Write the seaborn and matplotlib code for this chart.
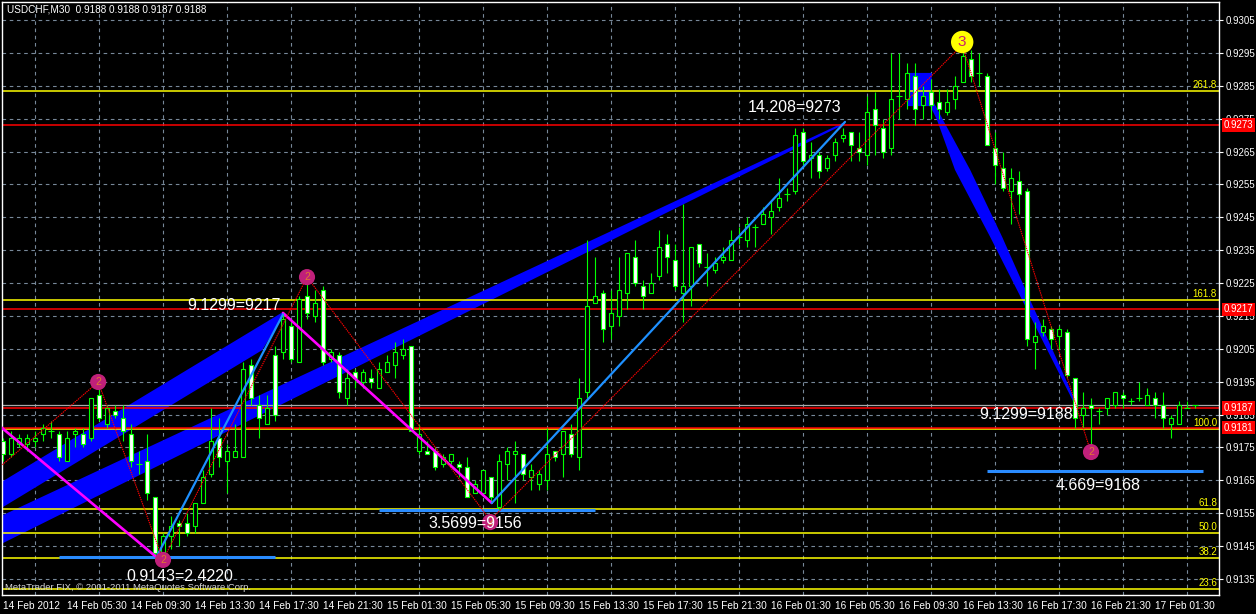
import matplotlib
matplotlib.use("Agg")
import matplotlib.pyplot as plt
import numpy as np
import pandas as pd
import seaborn as sns

# ---------------- data (USDCHF M30) ----------------
opens = [0.9177, 0.9173, 0.9176, 0.9176, 0.9177, 0.9179, 0.9180, 0.9179, 0.9171, 0.9179,
         0.9179, 0.9178, 0.9191, 0.9182, 0.9186, 0.9184, 0.9179, 0.9170, 0.9171, 0.9160,
         0.9142, 0.9148, 0.9152, 0.9152, 0.9151, 0.9158, 0.9167, 0.9178, 0.9171, 0.9172,
         0.9172, 0.9200, 0.9188, 0.9182, 0.9203, 0.9204, 0.9212, 0.9201, 0.9221, 0.9215,
         0.9223, 0.9202, 0.9203, 0.9190, 0.9198, 0.9195, 0.9196, 0.9193, 0.9198, 0.9200,
         0.9203, 0.9206, 0.9174, 0.9174, 0.9174, 0.9170, 0.9171, 0.9170, 0.9169, 0.9161,
         0.9161, 0.9166, 0.9157, 0.9170, 0.9173, 0.9173, 0.9166, 0.9164, 0.9165, 0.9174,
         0.9173, 0.9179, 0.9172, 0.9192, 0.9219, 0.9222, 0.9212, 0.9215, 0.9222, 0.9233,
         0.9224, 0.9222, 0.9227, 0.9237, 0.9232, 0.9222, 0.9224, 0.9237, 0.9230, 0.9229,
         0.9232, 0.9232, 0.9239, 0.9238, 0.9242, 0.9243, 0.9245, 0.9248, 0.9252, 0.9253,
         0.9271, 0.9263, 0.9264, 0.9260, 0.9264, 0.9269, 0.9271, 0.9266, 0.9264, 0.9278,
         0.9272, 0.9266, 0.9282, 0.9281, 0.9288, 0.9279, 0.9283, 0.9280, 0.9277, 0.9281,
         0.9286, 0.9293, 0.9289, 0.9288, 0.9266, 0.9260, 0.9253, 0.9256, 0.9253, 0.9207,
         0.9210, 0.9211, 0.9209, 0.9210, 0.9196, 0.9185, 0.9188, 0.9186, 0.9187, 0.9188,
         0.9191, 0.9189, 0.9190, 0.9188, 0.9190, 0.9188, 0.9182, 0.9182, 0.9187, 0.9188]
highs = [0.9178, 0.9180, 0.9179, 0.9179, 0.9180, 0.9182, 0.9183, 0.9180, 0.9180, 0.9181,
         0.9181, 0.9190, 0.9194, 0.9188, 0.9188, 0.9188, 0.9182, 0.9174, 0.9179, 0.9160,
         0.9149, 0.9154, 0.9153, 0.9155, 0.9158, 0.9168, 0.9187, 0.9184, 0.9176, 0.9182,
         0.9201, 0.9202, 0.9191, 0.9191, 0.9206, 0.9216, 0.9214, 0.9221, 0.9226, 0.9223,
         0.9224, 0.9205, 0.9204, 0.9199, 0.9199, 0.9199, 0.9199, 0.9201, 0.9203, 0.9207,
         0.9208, 0.9206, 0.9182, 0.9177, 0.9175, 0.9173, 0.9173, 0.9171, 0.9172, 0.9165,
         0.9168, 0.9166, 0.9173, 0.9175, 0.9177, 0.9173, 0.9170, 0.9168, 0.9181, 0.9174,
         0.9180, 0.9182, 0.9196, 0.9238, 0.9233, 0.9223, 0.9223, 0.9233, 0.9234, 0.9238,
         0.9226, 0.9228, 0.9241, 0.9240, 0.9237, 0.9249, 0.9236, 0.9237, 0.9234, 0.9233,
         0.9236, 0.9241, 0.9242, 0.9245, 0.9243, 0.9248, 0.9250, 0.9257, 0.9254, 0.9272,
         0.9272, 0.9268, 0.9265, 0.9264, 0.9269, 0.9272, 0.9271, 0.9271, 0.9282, 0.9283,
         0.9275, 0.9295, 0.9295, 0.9292, 0.9292, 0.9285, 0.9287, 0.9284, 0.9284, 0.9288,
         0.9297, 0.9296, 0.9295, 0.9289, 0.9271, 0.9265, 0.9260, 0.9259, 0.9254, 0.9213,
         0.9214, 0.9212, 0.9212, 0.9211, 0.9196, 0.9192, 0.9190, 0.9187, 0.9190, 0.9192,
         0.9192, 0.9190, 0.9195, 0.9193, 0.9192, 0.9192, 0.9185, 0.9189, 0.9189, 0.9188]
lows = [0.9171, 0.9172, 0.9175, 0.9174, 0.9175, 0.9177, 0.9178, 0.9171, 0.9171, 0.9175,
        0.9175, 0.9177, 0.9183, 0.9181, 0.9184, 0.9177, 0.9169, 0.9167, 0.9159, 0.9142,
        0.9141, 0.9144, 0.9145, 0.9148, 0.9149, 0.9158, 0.9166, 0.9169, 0.9161, 0.9172,
        0.9172, 0.9188, 0.9178, 0.9182, 0.9183, 0.9202, 0.9201, 0.9201, 0.9214, 0.9213,
        0.9200, 0.9201, 0.9190, 0.9188, 0.9193, 0.9193, 0.9193, 0.9193, 0.9198, 0.9196,
        0.9202, 0.9180, 0.9173, 0.9173, 0.9168, 0.9169, 0.9170, 0.9166, 0.9160, 0.9161,
        0.9161, 0.9158, 0.9156, 0.9165, 0.9158, 0.9165, 0.9162, 0.9162, 0.9162, 0.9171,
        0.9166, 0.9172, 0.9168, 0.9190, 0.9219, 0.9207, 0.9208, 0.9212, 0.9217, 0.9224,
        0.9217, 0.9222, 0.9226, 0.9228, 0.9223, 0.9213, 0.9218, 0.9230, 0.9224, 0.9228,
        0.9231, 0.9232, 0.9237, 0.9236, 0.9236, 0.9243, 0.9240, 0.9247, 0.9250, 0.9252,
        0.9261, 0.9257, 0.9257, 0.9259, 0.9262, 0.9268, 0.9262, 0.9262, 0.9261, 0.9264,
        0.9263, 0.9264, 0.9275, 0.9278, 0.9273, 0.9275, 0.9275, 0.9275, 0.9276, 0.9278,
        0.9286, 0.9286, 0.9285, 0.9267, 0.9255, 0.9253, 0.9243, 0.9246, 0.9206, 0.9199,
        0.9209, 0.9205, 0.9205, 0.9196, 0.9181, 0.9181, 0.9176, 0.9182, 0.9185, 0.9187,
        0.9187, 0.9188, 0.9189, 0.9188, 0.9184, 0.9181, 0.9178, 0.9182, 0.9187, 0.9187]
closes = [0.9173, 0.9178, 0.9178, 0.9178, 0.9178, 0.9181, 0.9180, 0.9172, 0.9178, 0.9180,
          0.9176, 0.9190, 0.9184, 0.9187, 0.9185, 0.9180, 0.9171, 0.9170, 0.9161, 0.9143,
          0.9148, 0.9151, 0.9151, 0.9149, 0.9158, 0.9166, 0.9177, 0.9172, 0.9174, 0.9174,
          0.9199, 0.9190, 0.9184, 0.9187, 0.9185, 0.9214, 0.9202, 0.9220, 0.9216, 0.9219,
          0.9201, 0.9204, 0.9192, 0.9196, 0.9196, 0.9198, 0.9195, 0.9199, 0.9201, 0.9204,
          0.9205, 0.9180, 0.9179, 0.9173, 0.9169, 0.9172, 0.9173, 0.9169, 0.9160, 0.9164,
          0.9168, 0.9160, 0.9171, 0.9174, 0.9174, 0.9167, 0.9168, 0.9167, 0.9173, 0.9172,
          0.9180, 0.9173, 0.9190, 0.9218, 0.9221, 0.9211, 0.9216, 0.9223, 0.9234, 0.9225,
          0.9221, 0.9225, 0.9236, 0.9233, 0.9224, 0.9224, 0.9236, 0.9231, 0.9230, 0.9231,
          0.9233, 0.9238, 0.9239, 0.9243, 0.9242, 0.9246, 0.9247, 0.9251, 0.9252, 0.9270,
          0.9262, 0.9264, 0.9259, 0.9263, 0.9268, 0.9270, 0.9267, 0.9265, 0.9277, 0.9273,
          0.9265, 0.9281, 0.9282, 0.9289, 0.9278, 0.9282, 0.9279, 0.9278, 0.9280, 0.9285,
          0.9294, 0.9288, 0.9289, 0.9267, 0.9261, 0.9254, 0.9257, 0.9252, 0.9208, 0.9209,
          0.9212, 0.9208, 0.9211, 0.9197, 0.9184, 0.9187, 0.9187, 0.9186, 0.9190, 0.9192,
          0.9190, 0.9189, 0.9190, 0.9191, 0.9188, 0.9184, 0.9184, 0.9188, 0.9187, 0.9188]

time_labels = ["14 Feb 2012", "14 Feb 05:30", "14 Feb 09:30", "14 Feb 13:30", "14 Feb 17:30",
               "14 Feb 21:30", "15 Feb 01:30", "15 Feb 05:30", "15 Feb 09:30", "15 Feb 13:30",
               "15 Feb 17:30", "15 Feb 21:30", "16 Feb 01:30", "16 Feb 05:30", "16 Feb 09:30",
               "16 Feb 13:30", "16 Feb 17:30", "16 Feb 21:30", "17 Feb 01:30"]
price_tick_labels = ["0.9135", "0.9145", "0.9155", "0.9165", "0.9175", "0.9185", "0.9195",
                     "0.9205", "0.9215", "0.9225", "0.9235", "0.9245", "0.9255", "0.9265",
                     "0.9275", "0.9285", "0.9295", "0.9305"]

red_levels = [0.9273, 0.9217, 0.9187, 0.9181]
bid_level = 0.9188
fib_low, fib_high = 0.91171, 0.91806
fib_ratios = [0.236, 0.382, 0.5, 0.618, 1.0, 1.618, 2.618]
fib_labels = ["23.6", "38.2", "50.0", "61.8", "100.0", "161.8", "261.8"]

zigzag_bars = [-1, 11.9, 20, 38, 60.9, 119.9, 135.9]
zigzag_prices = [0.91678, 0.91949, 0.91408, 0.92268, 0.91529, 0.92974, 0.91742]

pivot_bars = [11.9, 20, 38, 60.9, 136]
pivot_prices = [0.91949, 0.91408, 0.92268, 0.91523, 0.91736]
top_bar, top_price = 119.9, 0.92983

magenta_a_bars, magenta_a_prices = [-1, 19], [0.91827, 0.91420]
magenta_b_bars, magenta_b_prices = [35, 61.1], [0.92159, 0.91581]
blue_a_bars, blue_a_prices = [19.25, 35], [0.91420, 0.92155]
blue_b_bars, blue_b_prices = [61.1, 105.25], [0.91581, 0.92740]

band1_bars = [-1, 35, 35, 32.4, -1]
band1_prices = [0.91633, 0.92162, 0.92150, 0.92046, 0.91554]
band2_bars = [-1, 105.25, 105.25, -1]
band2_prices = [0.91533, 0.92740, 0.92734, 0.91447]
band3_bars = [113.1, 116.1, 116.1, 116.6, 117.5, 120.9, 124.9, 128.4, 134.4,
              134.0, 127.4, 123.4, 119.0, 116.75, 115.9, 113.1]
band3_prices = [0.92889, 0.92889, 0.92807, 0.92788, 0.92746, 0.92594, 0.92390, 0.92198, 0.91873,
                0.91879, 0.92198, 0.92390, 0.92594, 0.92746, 0.92788, 0.92788]

seg_start = [7, 47, 123]
seg_end = [34, 74, 150]
seg_prices = [0.91417, 0.91560, 0.91678]

notes = ["0.9143=2.4220", "3.5699=9156", "9.1299=9217", "14.208=9273", "9.1299=9188", "4.669=9168"]
note_bars = [22.1, 59.0, 28.9, 99.0, 127.9, 136.9]
note_prices = [0.91356, 0.91520, 0.92183, 0.92785, 0.91849, 0.91633]

# ---------------- figure ----------------
sns.set_theme(style="dark")
plt.rcParams["font.family"] = ["Liberation Sans", "DejaVu Sans"]
plt.rcParams["lines.scale_dashes"] = False

W, H = 1256, 614
fig = plt.figure(figsize=(W / 100, H / 100), dpi=100, facecolor="black")
ax = fig.add_axes([2 / W, 1 - 595 / H, 1217 / W, 593 / H])
ax.set_facecolor("black")
ax.set_xlim(-0.125, 152.0)
ax.set_ylim(0.913012, 0.931047)

GRID = "#778899"
ax.set_axisbelow(True)
ax.set_xticks(np.arange(0, 150, 8))
ax.set_xticklabels(time_labels)
ax.set_xticks(np.arange(4, 152, 4), minor=True)
ax.set_yticks([float(t) for t in price_tick_labels])
ax.set_yticklabels(price_tick_labels)
ax.yaxis.tick_right()
ax.tick_params(axis="x", which="major", colors="white", labelsize=7.3, length=3, width=0.8, pad=1.5)
ax.tick_params(axis="y", which="major", colors="white", labelsize=7.0, length=3, width=0.8, pad=1.5)
ax.tick_params(which="minor", length=0)
for t in ax.get_xticklabels():
    t.set_ha("left")
ax.xaxis.grid(False, which="major")
ax.xaxis.grid(True, which="minor", color=GRID, lw=0.8, linestyle=(0, (2.6, 2.6)))
ax.yaxis.grid(True, which="major", color=GRID, lw=0.8, linestyle=(0, (2.6, 2.6)))
for s in ax.spines.values():
    s.set_color("white")
    s.set_linewidth(1.0)

# blue channel bands
for bx, by in [(band1_bars, band1_prices), (band2_bars, band2_prices), (band3_bars, band3_prices)]:
    ax.fill(bx, by, color="#0000ff", lw=0, zorder=1.5)

# horizontal levels
for r, lab in zip(fib_ratios, fib_labels):
    lvl = fib_low + r * (fib_high - fib_low)
    ax.axhline(lvl, color="#ffff00", lw=1.1, zorder=2)
    ax.text(152.0 - 0.25, lvl + 0.00003, lab, color="#ffff00", fontsize=7, ha="right", va="bottom", zorder=7)
ax.axhline(bid_level, color="#a8a8a8", lw=0.9, zorder=2)
for lvl in red_levels:
    ax.axhline(lvl, color="#ff0000", lw=1.1, zorder=2.1)
    ax.text(1 + 5 / 1217, lvl, f"{lvl:.4f}", transform=ax.get_yaxis_transform(), ha="left", va="center",
            fontsize=7, color="white", clip_on=False, zorder=20,
            bbox=dict(boxstyle="square,pad=0.18", fc="#ff0000", ec="none"))

# horizontal target segments
for a, b, p in zip(seg_start, seg_end, seg_prices):
    ax.hlines(p, a, b, color="#2a8cff", lw=2.2, zorder=2.5)

# candles
df = pd.DataFrame({"o": opens, "h": highs, "l": lows, "c": closes})
df["bar"] = np.arange(len(df))
ax.vlines(df["bar"], df["l"], df["h"], color="#00ff00", lw=0.8, zorder=3)
bull = df[df["c"] > df["o"]]
bear = df[df["c"] < df["o"]]
doji = df[df["c"] == df["o"]]
ax.bar(bull["bar"], bull["c"] - bull["o"], bottom=bull["o"], width=0.55, color="black",
       edgecolor="#00ff00", lw=0.8, zorder=4)
ax.bar(bear["bar"], bear["o"] - bear["c"], bottom=bear["c"], width=0.55, color="white",
       edgecolor="#00ff00", lw=0.8, zorder=4)
ax.hlines(doji["o"], doji["bar"] - 0.4, doji["bar"] + 0.4, color="#00ff00", lw=0.8, zorder=4)

# trend legs
sns.lineplot(x=magenta_a_bars, y=magenta_a_prices, ax=ax, color="#ff00ff", lw=1.9, sort=False, estimator=None, zorder=5)
sns.lineplot(x=magenta_b_bars, y=magenta_b_prices, ax=ax, color="#ff00ff", lw=1.9, sort=False, estimator=None, zorder=5)
sns.lineplot(x=blue_a_bars, y=blue_a_prices, ax=ax, color="#1e90ff", lw=1.6, sort=False, estimator=None, zorder=5)
sns.lineplot(x=blue_b_bars, y=blue_b_prices, ax=ax, color="#1e90ff", lw=1.6, sort=False, estimator=None, zorder=5)
sns.lineplot(x=zigzag_bars, y=zigzag_prices, ax=ax, color="#ff0000", lw=0.8, sort=False, estimator=None,
             linestyle=(0, (1.0, 0.6)), zorder=5.5)

# pivot markers
sns.scatterplot(x=pivot_bars, y=pivot_prices, ax=ax, s=135, color="#c0207a", edgecolor="none", zorder=6)
for bx, py in zip(pivot_bars, pivot_prices):
    ax.text(bx, py, "2", color="#e07a30", fontsize=7.5, ha="center", va="center", zorder=7)
sns.scatterplot(x=[top_bar], y=[top_price], ax=ax, s=260, color="#ffff00", edgecolor="none", zorder=6)
ax.text(top_bar, top_price, "3", color="#c8206a", fontsize=11, ha="center", va="center", zorder=7)

# annotations
for txt, bx, py in zip(notes, note_bars, note_prices):
    ax.text(bx, py, txt, color="white", fontsize=11.5, ha="center", va="center", zorder=8)

ax.set_xlabel("")
ax.set_ylabel("")

fig.text(7 / W, 1 - 10 / H, "USDCHF,M30  0.9188 0.9188 0.9187 0.9188", color="white",
         fontsize=7.2, ha="left", va="center")
ax.text(3 / 1217, 8 / 593, "MetaTrader FIX, \u00a9 2001-2011 MetaQuotes Software Corp.", transform=ax.transAxes,
        color="#d8d8d8", fontsize=6.8, ha="left", va="center", zorder=9)

fig.savefig("out.png", dpi=100, facecolor="black")
